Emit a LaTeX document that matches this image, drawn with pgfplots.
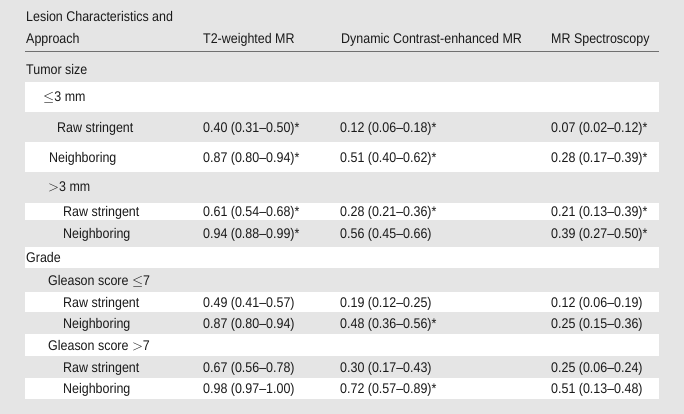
\documentclass[border=0pt]{standalone}
\usepackage{pgfplots}
\usepackage{pgfplotstable}
\pgfplotsset{compat=1.18}
\usepackage{fontspec}
\setmainfont{Liberation Sans}[FakeStretch=0.89]
\definecolor{bggray}{HTML}{E5E5E5}
\definecolor{rulegray}{HTML}{707070}
\definecolor{txt}{HTML}{1A1A1A}
\newcommand{\tfont}{\fontsize{14}{16}\selectfont}

\pgfplotstableread{
y a b c
127 {0.40 (0.31--0.50)*} {0.12 (0.06--0.18)*} {0.07 (0.02--0.12)*}
157 {0.87 (0.80--0.94)*} {0.51 (0.40--0.62)*} {0.28 (0.17--0.39)*}
211.5 {0.61 (0.54--0.68)*} {0.28 (0.21--0.36)*} {0.21 (0.13--0.39)*}
233.5 {0.94 (0.88--0.99)*} {0.56 (0.45--0.66)} {0.39 (0.27--0.50)*}
302 {0.49 (0.41--0.57)} {0.19 (0.12--0.25)} {0.12 (0.06--0.19)}
323 {0.87 (0.80--0.94)} {0.48 (0.36--0.56)*} {0.25 (0.15--0.36)}
367 {0.67 (0.56--0.78)} {0.30 (0.17--0.43)} {0.25 (0.06--0.24)}
388 {0.98 (0.97--1.00)} {0.72 (0.57--0.89)*} {0.51 (0.13--0.48)}
}\vals

\begin{document}
\begin{tikzpicture}[lab/.style={anchor=base west, inner sep=0pt, font=\tfont, text=txt}]
\begin{axis}[
  width=684pt, height=414pt, scale only axis,
  xmin=0, xmax=684, ymin=0, ymax=414, y dir=reverse,
  hide axis, clip=false,
  valstyle/.style={draw=none, mark=none, nodes near coords,
    point meta=explicit symbolic,
    every node near coord/.append style={anchor=base west, inner sep=0pt, font=\tfont, text=txt}},
]
% background
\addplot[fill=bggray, draw=none] coordinates {(0,0) (684,0) (684,414) (0,414)} -- cycle;
% white bands
\addplot[fill=white, draw=none] coordinates {(25,82) (659,82) (659,112) (25,112)} -- cycle;
\addplot[fill=white, draw=none] coordinates {(25,142) (659,142) (659,172) (25,172)} -- cycle;
\addplot[fill=white, draw=none] coordinates {(25,203) (659,203) (659,220) (25,220)} -- cycle;
\addplot[fill=white, draw=none] coordinates {(25,247) (659,247) (659,268) (25,268)} -- cycle;
\addplot[fill=white, draw=none] coordinates {(25,292) (659,292) (659,312) (25,312)} -- cycle;
\addplot[fill=white, draw=none] coordinates {(25,334) (659,334) (659,356) (25,356)} -- cycle;
\addplot[fill=white, draw=none] coordinates {(25,378) (659,378) (659,399) (25,399)} -- cycle;
% header rule
\addplot[draw=rulegray, line width=1pt] coordinates {(25,52) (659,52)};
% headers
\node[lab] at (axis cs:26,22) {Lesion Characteristics and};
\node[lab] at (axis cs:26,44) {Approach};
\node[lab] at (axis cs:203,44) {T2-weighted MR};
\node[lab] at (axis cs:341,44) {Dynamic Contrast-enhanced MR};
\node[lab] at (axis cs:551,44) {MR Spectroscopy};
% row labels
\node[lab] at (axis cs:26,75) {Tumor size};
\node[lab] at (axis cs:43,102) {$\leq$3 mm};
\node[lab] at (axis cs:57,132) {Raw stringent};
\node[lab] at (axis cs:49,162) {Neighboring};
\node[lab] at (axis cs:48,191) {$>$3 mm};
\node[lab] at (axis cs:63,216.5) {Raw stringent};
\node[lab] at (axis cs:63,238.5) {Neighboring};
\node[lab] at (axis cs:26,262.5) {Grade};
\node[lab] at (axis cs:48,285) {Gleason score $\leq$7};
\node[lab] at (axis cs:63,307) {Raw stringent};
\node[lab] at (axis cs:63,328) {Neighboring};
\node[lab] at (axis cs:48,350) {Gleason score $>$7};
\node[lab] at (axis cs:63,372) {Raw stringent};
\node[lab] at (axis cs:63,393) {Neighboring};
% values
\addplot[valstyle] table[x expr=203, y expr=\thisrow{y}+5, meta=a] {\vals};
\addplot[valstyle] table[x expr=340, y expr=\thisrow{y}+5, meta=b] {\vals};
\addplot[valstyle] table[x expr=551, y expr=\thisrow{y}+5, meta=c] {\vals};
\end{axis}
\end{tikzpicture}
\end{document}
